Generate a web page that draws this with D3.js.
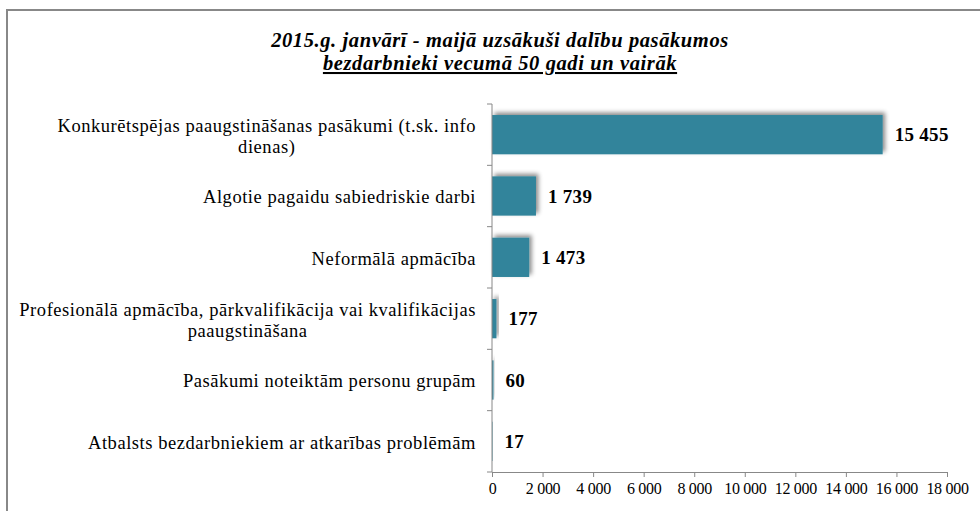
<!DOCTYPE html>
<html>
<head>
<meta charset="utf-8">
<script src="https://cdn.jsdelivr.net/npm/d3@7"></script>
<style>
  body { margin: 0; background: #fff; }
  svg { display: block; }
  svg text { font-family: "Liberation Serif", "Times New Roman", Times, "DejaVu Serif", serif; }
</style>
</head>
<body>
<div id="chart"></div>
<script>
"use strict";

// categories, top to bottom ("\n" = wrapped line)
var categories = [
  "Konkurētspējas paaugstināšanas pasākumi (t.sk. info\ndienas)",
  "Algotie pagaidu sabiedriskie darbi",
  "Neformālā apmācība",
  "Profesionālā apmācība, pārkvalifikācija vai kvalifikācijas\npaaugstināšana",
  "Pasākumi noteiktām personu grupām",
  "Atbalsts bezdarbniekiem ar atkarības problēmām"
];
var values = [15455, 1739, 1473, 177, 60, 17];
var xTicks = [0, 2000, 4000, 6000, 8000, 10000, 12000, 14000, 16000, 18000];
var titleLines = [
  "2015.g. janvārī - maijā uzsākuši dalību pasākumos",
  "bezdarbnieki vecumā 50 gadi un vairāk"
];

var W = 980, H = 511;
var margin = {top: 104, left: 492, right: 33, bottom: 39};
var fmt = function (v) { return d3.format(",")(v).replace(/,/g, " "); };

var svg = d3.select("#chart").append("svg")
  .attr("width", W).attr("height", H);

var defs = svg.append("defs");
var f = defs.append("filter").attr("id", "shadow")
  .attr("x", "-50%").attr("y", "-50%").attr("width", "200%").attr("height", "200%");
f.append("feDropShadow")
  .attr("dx", 2.5).attr("dy", -2.5).attr("stdDeviation", 2)
  .attr("flood-color", "#000").attr("flood-opacity", 0.45);

// outer frame
svg.append("rect")
  .attr("x", 7).attr("y", 10).attr("width", W + 20).attr("height", H + 20)
  .attr("fill", "none").attr("stroke", "#888").attr("stroke-width", 2);

// title
var title = svg.append("text")
  .attr("text-anchor", "middle")
  .attr("font-size", 20.5).attr("letter-spacing", 0.6)
  .attr("font-weight", "bold").attr("font-style", "italic");
title.selectAll("tspan").data(titleLines).join("tspan")
  .attr("x", 500).attr("y", function (d, i) { return 47 + i * 23; })
  .attr("text-decoration", function (d, i) { return i === 1 ? "underline" : null; })
  .text(function (d) { return d; });

var x = d3.scaleLinear().domain([0, 18000])
  .range([margin.left, W - margin.right]);
var y = d3.scaleBand().domain(categories)
  .range([margin.top, H - margin.bottom]).paddingInner(0.36).paddingOuter(0.18);
var band = d3.scaleBand().domain(categories)
  .range([margin.top, H - margin.bottom]);

// bars
svg.append("g").selectAll("rect").data(values).join("rect")
  .attr("x", x(0))
  .attr("y", function (d, i) { return y(categories[i]); })
  .attr("width", function (d) { return Math.max(0.5, x(d) - x(0)); })
  .attr("height", y.bandwidth())
  .attr("fill", "#31849b")
  .attr("filter", "url(#shadow)");

// value labels
svg.append("g").selectAll("text").data(values).join("text")
  .attr("x", function (d) { return x(d) + 12; })
  .attr("y", function (d, i) { return y(categories[i]) + y.bandwidth() / 2; })
  .attr("dy", "0.35em")
  .attr("font-size", 19).attr("font-weight", "bold").attr("letter-spacing", 0.3)
  .text(fmt);

// y axis
var yAxis = svg.append("g")
  .attr("transform", "translate(" + x(0) + ",0)");
yAxis.append("line")
  .attr("y1", margin.top).attr("y2", H - margin.bottom)
  .attr("stroke", "#888");
yAxis.selectAll("line.tick").data(d3.range(categories.length + 1)).join("line")
  .attr("class", "tick")
  .attr("x1", -5).attr("x2", 0)
  .attr("y1", function (i) { return margin.top + i * band.bandwidth(); })
  .attr("y2", function (i) { return margin.top + i * band.bandwidth(); })
  .attr("stroke", "#888");

// category labels: block right-aligned, lines centered within block
var labels = svg.append("g").attr("font-size", 18.5).attr("letter-spacing", 0.55).attr("fill", "#000");
categories.forEach(function (c) {
  var lines = c.split("\n");
  var t = labels.append("text").attr("text-anchor", "middle");
  var spans = t.selectAll("tspan").data(lines).join("tspan").text(function (d) { return d; });
  var wmax = 0;
  spans.each(function () { wmax = Math.max(wmax, this.getComputedTextLength()); });
  var cx = x(0) - 16 - wmax / 2;
  var cy = band(c) + band.bandwidth() / 2 + 1;
  var lh = 21;
  spans.attr("x", cx)
    .attr("y", function (d, i) { return cy + (i - (lines.length - 1) / 2) * lh; })
    .attr("dy", "0.35em");
});

// x axis
var xAxis = svg.append("g")
  .attr("transform", "translate(0," + (H - margin.bottom) + ")")
  .call(d3.axisBottom(x).tickValues(xTicks).tickSize(5).tickPadding(6).tickFormat(fmt));
xAxis.attr("font-family", null);
xAxis.select(".domain").attr("stroke", "#888");
xAxis.selectAll(".tick line").attr("stroke", "#888");
xAxis.selectAll(".tick text")
  .attr("font-size", 16).attr("letter-spacing", -0.3).attr("fill", "#000");
</script>
</body>
</html>
